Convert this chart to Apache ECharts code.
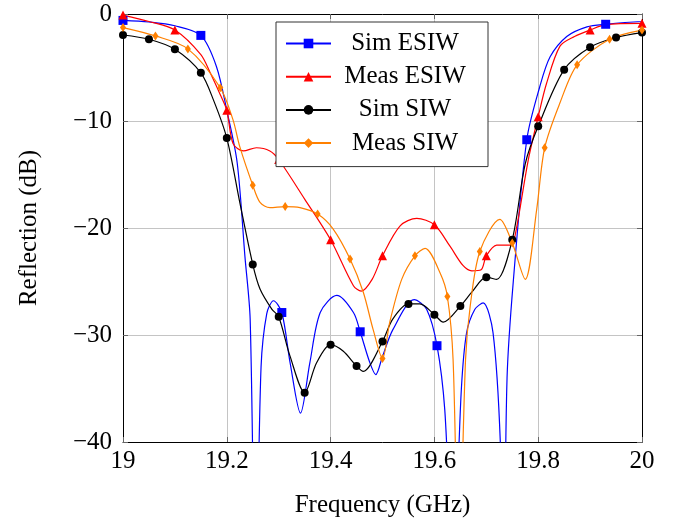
<!DOCTYPE html>
<html>
<head>
<meta charset="UTF-8">
<title>Reflection</title>
<script src="https://cdn.jsdelivr.net/npm/echarts@6/dist/echarts.min.js"></script>
<style>
  html, body { margin: 0; padding: 0; background: #fff; }
</style>
</head>
<body>
<div id="main" style="width:680px;height:523px"></div>
<script>
// curves, frequency in GHz, reflection in dB
var simEsiwFreq = [19.00, 19.05, 19.10, 19.15, 19.18, 19.20, 19.22, 19.235, 19.245, 19.2555, 19.266, 19.277, 19.29, 19.306, 19.322, 19.342, 19.36, 19.38, 19.412, 19.444, 19.457, 19.475, 19.487, 19.50, 19.52, 19.561, 19.585, 19.605, 19.62, 19.636, 19.652, 19.662, 19.678, 19.694, 19.713, 19.727, 19.733, 19.740, 19.752, 19.778, 19.803, 19.823, 19.855, 19.894, 19.93, 20.00];
var simEsiwDb = [-0.6, -0.75, -1.1, -2.0, -4.9, -9.0, -13.9, -22.7, -28.5, -55, -33, -28, -26.8, -27.9, -32.6, -37.3, -32.6, -27.9, -26.3, -27.9, -29.7, -32.5, -33.7, -32.0, -29.5, -26.7, -27.6, -31.0, -37.0, -52, -35, -29.8, -27.6, -27.0, -29.8, -40, -55, -34, -25, -11.75, -6.8, -4.0, -2.1, -1.2, -0.96, -0.7];
var simEsiwMarks = [19.00, 19.15, 19.306, 19.457, 19.605, 19.778, 19.93];

var measEsiwFreq = [19.00, 19.05, 19.10, 19.15, 19.168, 19.187, 19.20, 19.212, 19.232, 19.257, 19.283, 19.30, 19.35, 19.40, 19.444, 19.459, 19.48, 19.50, 19.534, 19.566, 19.60, 19.63, 19.655, 19.672, 19.69, 19.70, 19.72, 19.746, 19.755, 19.781, 19.80, 19.816, 19.842, 19.87, 19.90, 19.93, 20.00];
var measEsiwDb = [-0.1, -0.7, -1.5, -3.8, -5.5, -7.5, -9.0, -12.1, -12.8, -12.5, -12.8, -13.6, -17.3, -21.1, -25.4, -25.9, -24.8, -22.6, -19.8, -19.1, -19.7, -21.7, -23.5, -24.0, -23.9, -22.6, -21.6, -21.6, -20.8, -13.6, -9.6, -6.5, -3.0, -2.1, -1.5, -1.0, -0.87];
var measEsiwMarks = [19.00, 19.10, 19.20, 19.30, 19.40, 19.50, 19.60, 19.70, 19.80, 19.90, 20.00];

var simSiwFreq = [19.00, 19.05, 19.10, 19.15, 19.174, 19.20, 19.225, 19.25, 19.264, 19.287, 19.30, 19.322, 19.35, 19.373, 19.40, 19.424, 19.45, 19.463, 19.50, 19.52, 19.55, 19.572, 19.60, 19.617, 19.65, 19.672, 19.70, 19.72, 19.75, 19.775, 19.80, 19.85, 19.90, 19.95, 20.00];
var simSiwDb = [-1.96, -2.36, -3.3, -5.5, -8.0, -11.6, -17.6, -23.4, -25.7, -27.6, -28.3, -32.0, -35.4, -32.6, -30.9, -31.5, -32.9, -33.4, -30.6, -28.5, -27.1, -27.1, -28.1, -28.8, -27.3, -26.0, -24.6, -24.8, -21.1, -14.0, -10.5, -5.2, -3.1, -2.2, -1.74];
var simSiwMarks = [19.00, 19.05, 19.10, 19.15, 19.20, 19.25, 19.30, 19.35, 19.40, 19.45, 19.50, 19.55, 19.60, 19.65, 19.70, 19.75, 19.80, 19.85, 19.90, 19.95, 20.00];

var measSiwFreq = [19.00, 19.0625, 19.125, 19.1875, 19.212, 19.225, 19.25, 19.264, 19.283, 19.3125, 19.341, 19.375, 19.405, 19.4375, 19.463, 19.482, 19.50, 19.514, 19.537, 19.5625, 19.582, 19.611, 19.625, 19.636, 19.647, 19.66, 19.669, 19.6875, 19.726, 19.75, 19.775, 19.797, 19.8125, 19.842, 19.875, 19.9375, 20.00];
var measSiwDb = [-1.27, -2.05, -3.26, -6.9, -9.9, -12.4, -16.0, -17.6, -18.1, -18.0, -18.1, -18.7, -20.1, -22.9, -26.0, -29.5, -32.2, -28.8, -24.8, -22.6, -21.9, -24.2, -26.4, -32.3, -52, -32.3, -27.3, -22.2, -19.2, -21.4, -24.8, -18.3, -12.5, -8.3, -4.75, -2.36, -1.5];
var measSiwMarks = [19.00, 19.0625, 19.125, 19.1875, 19.25, 19.3125, 19.375, 19.4375, 19.50, 19.5625, 19.625, 19.6875, 19.75, 19.8125, 19.875, 19.9375, 20.00];

var xTicks = [19, 19.2, 19.4, 19.6, 19.8, 20];
var yTicks = [-40, -30, -20, -10, 0];

var serif = '"Liberation Serif", "DejaVu Serif", serif';

// points get a marker only where the picture shows one
function build(freq, db, marks) {
  return freq.map(function (f, i) {
    var item = { value: [f, db[i]] };
    if (marks.indexOf(f) < 0) item.symbol = 'none';
    return item;
  });
}

function curve(name, color, symbol, size, freq, db, marks) {
  return {
    name: name,
    type: 'line',
    smooth: 0.3,
    showAllSymbol: true,
    symbol: symbol,
    symbolSize: size,
    clip: true,
    lineStyle: { color: color, width: 1.2 },
    itemStyle: { color: color },
    data: build(freq, db, marks),
    z: 3
  };
}

var myChart = echarts.init(document.getElementById('main'));

var minus = function (v) { return v < 0 ? '\u2212' + Math.abs(v) : String(v); };

myChart.setOption({
  animation: false,
  grid: { left: 123, right: 38, top: 14, bottom: 80 },
  legend: {
    orient: 'vertical',
    left: 276,
    top: 22,
    padding: [9, 14, 11, 9],
    itemWidth: 45,
    itemHeight: 12,
    itemGap: 8.2,
    backgroundColor: '#fff',
    borderColor: '#333',
    borderWidth: 1,
    z: 10,
    data: ['Sim ESIW', 'Meas ESIW', 'Sim SIW', 'Meas SIW'],
    formatter: function (n) { return '{c|' + n + '}'; },
    textStyle: {
      color: '#000',
      rich: {
        c: { fontFamily: serif, fontSize: 25, lineHeight: 26, width: 138, align: 'center', color: '#000' }
      }
    }
  },
  xAxis: [{
    type: 'value',
    min: 19,
    max: 20,
    interval: 0.2,
    name: 'Frequency (GHz)',
    nameLocation: 'middle',
    nameGap: 51,
    nameTextStyle: { fontFamily: serif, fontSize: 25, color: '#000' },
    axisLine: { show: true, onZero: false, lineStyle: { color: '#000', width: 1 } },
    axisTick: { show: true, inside: true, length: 5, lineStyle: { color: '#666' } },
    axisLabel: {
      margin: 7, fontFamily: serif, fontSize: 25, color: '#000',
      formatter: function (v) { return xTicks.indexOf(Math.round(v * 10) / 10) >= 0 ? String(Math.round(v * 10) / 10) : ''; }
    },
    splitLine: { show: true, lineStyle: { color: '#c4c4c4', width: 1 } }
  }, {
    type: 'value',
    position: 'top',
    min: 19,
    max: 20,
    interval: 0.2,
    axisLine: { show: true, onZero: false, lineStyle: { color: '#000', width: 1 } },
    axisTick: { show: true, inside: true, length: 5, lineStyle: { color: '#666' } },
    axisLabel: { show: false },
    splitLine: { show: false }
  }],
  yAxis: [{
    type: 'value',
    min: -40,
    max: 0,
    interval: 10,
    name: 'Reflection (dB)',
    nameLocation: 'middle',
    nameGap: 81,
    nameTextStyle: { fontFamily: serif, fontSize: 25, color: '#000' },
    axisLine: { show: true, onZero: false, lineStyle: { color: '#000', width: 1 } },
    axisTick: { show: true, inside: true, length: 5, lineStyle: { color: '#666' } },
    axisLabel: {
      margin: 11, fontFamily: serif, fontSize: 25, color: '#000',
      formatter: function (v) { return yTicks.indexOf(v) >= 0 ? minus(v) : ''; }
    },
    splitLine: { show: true, lineStyle: { color: '#c4c4c4', width: 1 } }
  }, {
    type: 'value',
    position: 'right',
    min: -40,
    max: 0,
    interval: 10,
    axisLine: { show: true, onZero: false, lineStyle: { color: '#000', width: 1 } },
    axisTick: { show: true, inside: true, length: 5, lineStyle: { color: '#666' } },
    axisLabel: { show: false },
    splitLine: { show: false }
  }],
  series: [
    curve('Sim ESIW', '#0000ff', 'rect', 9, simEsiwFreq, simEsiwDb, simEsiwMarks),
    curve('Meas ESIW', '#ff0000', 'triangle', 9, measEsiwFreq, measEsiwDb, measEsiwMarks),
    curve('Sim SIW', '#000000', 'circle', 8, simSiwFreq, simSiwDb, simSiwMarks),
    curve('Meas SIW', '#ff8000', 'diamond', [6, 9], measSiwFreq, measSiwDb, measSiwMarks)
  ]
});
</script>
</body>
</html>
